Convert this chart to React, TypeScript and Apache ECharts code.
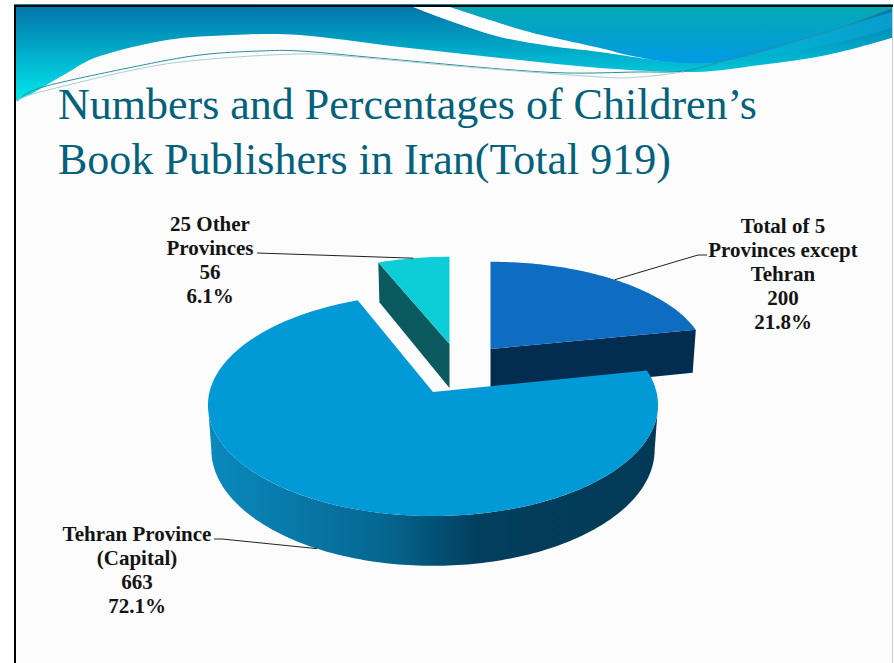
import React, { useEffect, useRef } from "react";
import * as echarts from "echarts";

// Publisher counts and shares, in clockwise order from twelve o'clock.
const categories = ["Total of 5\nProvinces except\nTehran", "Tehran Province\n(Capital)", "25 Other\nProvinces"];
const publishers = [200, 663, 56];
const shares = ["21.8%", "72.1%", "6.1%"];
const titleLines = ["Numbers and Percentages of Children’s", "Book Publishers in Iran(Total 919)"];

const W = 894;
const H = 663;
const SERIF = '"Liberation Serif", serif';

// Tilted-disc projection shared by all three slices.
const RADIUS_X = 223.5;
const RADIUS_Y = 109.5;
const TILT = 0.117;
const THICKNESS = 44;
const FOOT_SHRINK = 0.985;
// Where the disc outline turns, which bounds the visible part of the outer wall.
const SIDE_TURN = Math.acos(-TILT);

const sliceLook = [
  {
    apex: [490.5, 349], scaleX: 0.96, scaleY: 0.89, top: "#0e6cc1", wall: "#022c50", face: "end",
    anchorOnFoot: false, elbow: [[698, 255], [707, 255]], labelAt: [783, 214],
  },
  {
    apex: [433, 392], scaleX: 1, scaleY: 1, top: "#0199d6", wall: "", face: "outer",
    anchorOnFoot: true, elbow: [[222, 539], [214, 539]], labelAt: [137, 522],
  },
  {
    apex: [449.5, 344], scaleX: 0.945, scaleY: 0.89, top: "#0dcdd8", wall: "#0a5a60", face: "start",
    anchorOnFoot: false, elbow: [[257, 253]], labelAt: [210, 212],
  },
];
// The back slices go first so the large front slice overlaps them.
const paintOrder = [0, 2, 1];

const total = publishers.reduce((a, b) => a + b, 0);
const sweepBounds = publishers.reduce<number[][]>((out, v) => {
  const from = out.length ? out[out.length - 1][1] : 0;
  out.push([from, from + (v / total) * Math.PI * 2]);
  return out;
}, []);

function rimPoint(i: number, theta: number, foot = false): number[] {
  const look = sliceLook[i];
  const w = 1 + TILT * Math.cos(theta);
  const dx = (RADIUS_X * look.scaleX * Math.sin(theta)) / w;
  const dy = (-RADIUS_Y * look.scaleY * Math.cos(theta)) / w;
  if (!foot) return [look.apex[0] + dx, look.apex[1] + dy];
  return [look.apex[0] + dx * FOOT_SHRINK, look.apex[1] + dy + THICKNESS / w];
}

function rimRun(i: number, from: number, to: number, foot = false): number[][] {
  const steps = Math.max(2, Math.ceil(Math.abs(to - from) / 0.02));
  const pts: number[][] = [];
  for (let s = 0; s <= steps; s++) pts.push(rimPoint(i, from + ((to - from) * s) / steps, foot));
  return pts;
}

const mainWallFill = new echarts.graphic.LinearGradient(
  207, 0, 657, 0,
  [
    { offset: 0, color: "#0a8abd" },
    { offset: 0.2, color: "#0878a8" },
    { offset: 0.4, color: "#056690" },
    { offset: 0.6, color: "#023f5e" },
    { offset: 1, color: "#013a56" },
  ],
  true
);

function renderSlice(params: any) {
  const i = paintOrder[params.dataIndex];
  const look = sliceLook[i];
  const [from, to] = sweepBounds[i];
  const apex = look.apex;
  const children: any[] = [];

  if (look.face === "outer") {
    const a = Math.max(from, SIDE_TURN);
    const b = Math.min(to, Math.PI * 2 - SIDE_TURN);
    const wall = [...rimRun(i, a, b), ...rimRun(i, b, a, true)];
    children.push({ type: "polygon", shape: { points: wall }, style: { fill: mainWallFill } });
  } else {
    const edge = look.face === "end" ? to : from;
    const wall = [apex, rimPoint(i, edge), rimPoint(i, edge, true), [apex[0], apex[1] + THICKNESS]];
    children.push({ type: "polygon", shape: { points: wall }, style: { fill: look.wall } });
  }

  children.push({
    type: "polygon",
    shape: { points: [apex, ...rimRun(i, from, to)] },
    style: { fill: look.top },
  });

  const mid = (from + to) / 2;
  children.push({
    type: "polyline",
    shape: { points: [rimPoint(i, mid, look.anchorOnFoot), ...look.elbow] },
    style: { stroke: "#222222", lineWidth: 1, fill: "none" },
  });

  children.push({
    type: "text",
    style: {
      text: `${categories[i]}\n${publishers[i]}\n${shares[i]}`,
      x: look.labelAt[0],
      y: look.labelAt[1],
      align: "center",
      verticalAlign: "top",
      lineHeight: 24,
      font: `bold 21px ${SERIF}`,
      fill: "#141414",
    },
  });

  return { type: "group", children };
}

// Smooth SVG path through a list of points.
function through(pts: number[][], lead = "M"): string {
  let d = `${lead}${pts[0][0]} ${pts[0][1]}`;
  for (let k = 0; k < pts.length - 1; k++) {
    const p0 = pts[Math.max(0, k - 1)];
    const p1 = pts[k];
    const p2 = pts[k + 1];
    const p3 = pts[Math.min(pts.length - 1, k + 2)];
    d += ` C${p1[0] + (p2[0] - p0[0]) / 6} ${p1[1] + (p2[1] - p0[1]) / 6} ${p2[0] - (p3[0] - p1[0]) / 6} ${p2[1] - (p3[1] - p1[1]) / 6} ${p2[0]} ${p2[1]}`;
  }
  return d;
}

// Banner contours.
const bannerEdge = [[16, 101], [33, 93], [67, 73], [100, 56], [167, 40], [233, 35], [300, 35], [400, 47], [500, 58], [600, 68], [694, 72], [760, 65], [827, 55], [892, 38]];
const swooshLow = [[413, 7], [450, 21], [500, 37], [550, 46], [600, 52], [660, 61]];
const swooshHigh = [[660, 61], [627, 55], [600, 48], [533, 33], [490, 20], [450, 7]];
const skyLow = [[660, 61], [707, 63], [760, 53], [827, 32], [892, 8]];
const streakHigh = [[760, 53], [827, 32], [892, 12]];
const streakLow = [[892, 28], [840, 42], [760, 57]];
const ribbonA = [[17, 101], [43, 87], [133, 67], [200, 55], [260, 51], [300, 51], [367, 57], [433, 63], [500, 69], [567, 73], [637, 72], [684, 71], [727, 60], [827, 32], [892, 8]];
const ribbonB = [[17, 102], [33, 94], [133, 70], [200, 60], [300, 54], [367, 58], [467, 67], [600, 77], [640, 77], [684, 72]];

const shapes: Record<string, string> = {
  bannerBody: `M16 7 L892 7 L892 38 ${through([...bannerEdge].reverse(), "L")} Z`,
  bannerSky: `M450 7 L892 7 L892 8 ${through([...skyLow].reverse(), "L")} ${through(swooshHigh, "L")} Z`,
  bannerStreak: `${through(streakHigh)} ${through(streakLow, "L")} Z`,
  bannerSwoosh: `${through(swooshLow)} ${through(swooshHigh, "L")} Z`,
  ribbonOne: through(ribbonA),
  ribbonTwo: through(ribbonB),
};
Object.keys(shapes).forEach((name) => {
  echarts.graphic.registerShape(name, echarts.graphic.extendPath(shapes[name], {}) as any);
});

function verticalFill(y0: number, y1: number, from: string, to: string) {
  return new echarts.graphic.LinearGradient(0, y0, 0, y1, [
    { offset: 0, color: from },
    { offset: 1, color: to },
  ], true);
}

function buildOption() {
  return {
    animation: false,
    backgroundColor: "#ffffff",
    graphic: [
      { type: "rect", shape: { x: 16, y: 7, width: 876, height: 656 }, style: { fill: "#fcfcfc" } },
      { type: "rect", shape: { x: 892, y: 7, width: 1, height: 656 }, style: { fill: "#cfcfcf" } },
      { type: "bannerBody", style: { fill: verticalFill(7, 100, "#0276aa", "#00e6ec") } },
      { type: "bannerSky", style: { fill: verticalFill(7, 62, "#04aab4", "#009ae4") } },
      {
        type: "bannerStreak",
        style: {
          fill: new echarts.graphic.LinearGradient(760, 0, 892, 0, [
            { offset: 0, color: "#00b4d4" },
            { offset: 1, color: "#0a9ccc" },
          ], true),
        },
      },
      { type: "bannerSwoosh", style: { fill: "#ffffff" } },
      { type: "ribbonOne", style: { fill: "none", stroke: "#2d8f9f", lineWidth: 1 } },
      { type: "ribbonTwo", style: { fill: "none", stroke: "#a9cfd2", lineWidth: 1 } },
      { type: "rect", shape: { x: 14, y: 4, width: 879, height: 1 }, style: { fill: "#0a8aa0" } },
      { type: "rect", shape: { x: 14, y: 5, width: 879, height: 2 }, style: { fill: "#000000" } },
      { type: "rect", shape: { x: 14, y: 5, width: 2, height: 658 }, style: { fill: "#000000" } },
      ...titleLines.map((line, k) => ({
        type: "text",
        x: 58,
        y: 104 + k * 55,
        style: { text: line, font: `44px ${SERIF}`, fill: "#04617b", verticalAlign: "middle", align: "left" },
      })),
    ],
    series: [
      {
        type: "custom",
        coordinateSystem: "none",
        silent: true,
        data: paintOrder.map((i) => publishers[i]),
        renderItem: renderSlice,
      },
    ],
  };
}

export default function App() {
  const host = useRef<HTMLDivElement>(null);
  useEffect(() => {
    const chart = echarts.init(host.current as HTMLDivElement, undefined, { renderer: "svg" });
    chart.setOption(buildOption() as any);
    return () => chart.dispose();
  }, []);
  return <div ref={host} style={{ position: "fixed", left: 0, top: 0, width: W, height: H }} />;
}
